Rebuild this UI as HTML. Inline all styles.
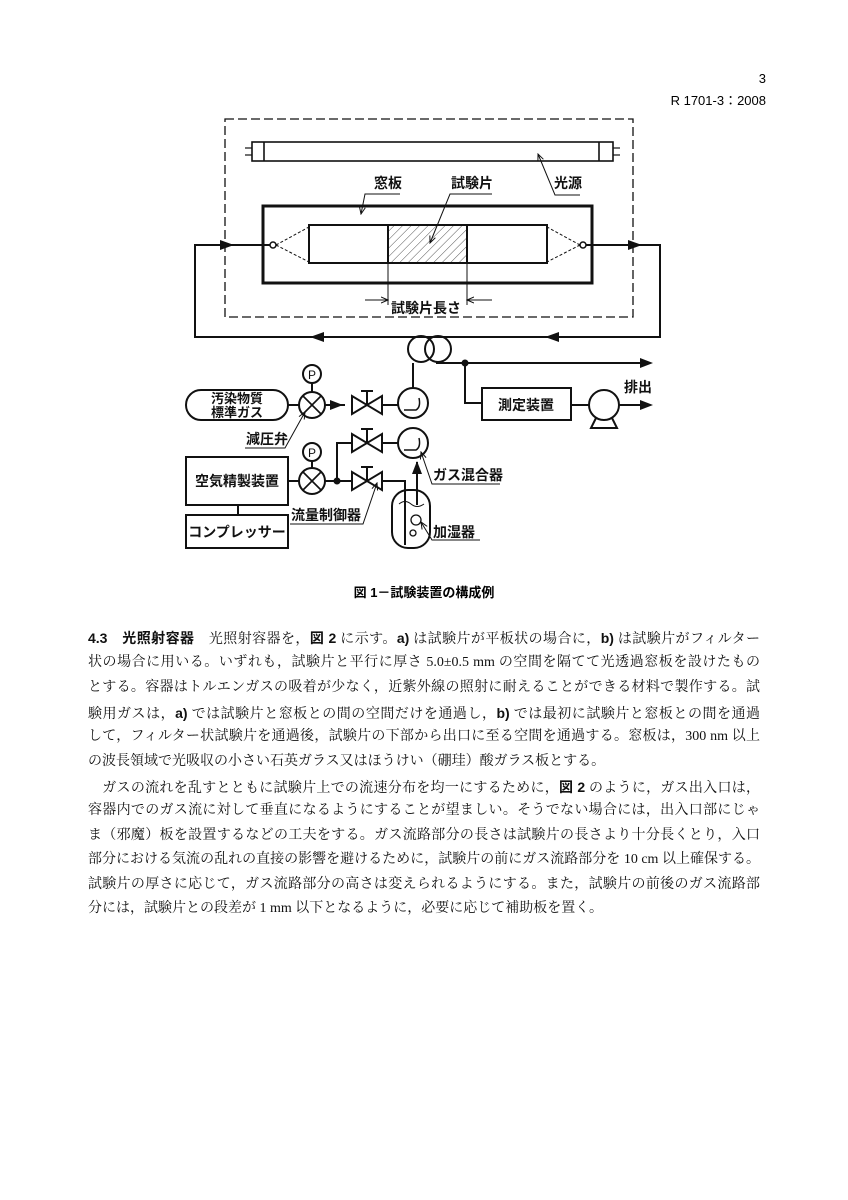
<!DOCTYPE html>
<html><head><meta charset="utf-8">
<style>
body{margin:0;background:#fff;}
#pg{position:relative;width:848px;height:1200px;overflow:hidden;background:#fff;}
.t{position:absolute;left:88px;width:672px;font-family:"Liberation Serif","Noto Serif CJK SC",serif;font-size:14px;line-height:18px;color:#111;text-align:justify;text-align-last:justify;white-space:nowrap;}
.t.l{text-align-last:left;}
b{font-family:"Liberation Sans","Noto Sans CJK JP",sans-serif;font-weight:bold;}
.d{font-family:"Liberation Sans","Noto Sans CJK JP",sans-serif;font-size:14px;font-weight:bold;fill:#111;}
</style></head><body><div id="pg">
<svg width="848" height="1200" style="position:absolute;left:0;top:0" xmlns="http://www.w3.org/2000/svg">
<defs>
<marker id="sa" markerWidth="8" markerHeight="8" refX="7" refY="4" orient="auto" markerUnits="userSpaceOnUse"><path d="M0,1 L7,4 L0,7" fill="none" stroke="#111" stroke-width="1"/></marker>
<pattern id="h" width="6" height="6" patternUnits="userSpaceOnUse" patternTransform="rotate(45)"><line x1="0" y1="0" x2="0" y2="6" stroke="#555" stroke-width="1"/></pattern>
</defs>
<text x="766" y="83" text-anchor="end" style="font-family:'Liberation Sans',sans-serif;font-size:13px">3</text>
<text x="766" y="105" text-anchor="end" style="font-family:'Liberation Sans','Noto Sans CJK JP',sans-serif;font-size:13px">R 1701-3：2008</text>
<g stroke="#111" fill="none" stroke-width="1.6">
<rect x="225" y="119" width="408" height="198" stroke-dasharray="9,4" stroke-width="1.3"/>
<rect x="252" y="142" width="361" height="19"/>
<line x1="264" y1="142" x2="264" y2="161"/><line x1="599" y1="142" x2="599" y2="161"/>
<line x1="245" y1="148" x2="252" y2="148" stroke-width="1.2"/><line x1="245" y1="155" x2="252" y2="155" stroke-width="1.2"/>
<line x1="613" y1="148" x2="620" y2="148" stroke-width="1.2"/><line x1="613" y1="155" x2="620" y2="155" stroke-width="1.2"/>
<rect x="263" y="206" width="329" height="77" stroke-width="3"/>
<rect x="309" y="225" width="238" height="38" stroke-width="2"/>
<rect x="388" y="225" width="79" height="38" fill="url(#h)" stroke-width="2"/>
<path d="M276,245 L309,227 M276,245 L309,262 M580,245 L547,227 M580,245 L547,262" stroke-dasharray="3,2" stroke-width="1"/>
<circle cx="273" cy="245" r="3" stroke-width="1.5" fill="#fff"/><circle cx="583" cy="245" r="3" stroke-width="1.5" fill="#fff"/>
<path d="M270,245 L195,245 L195,337 L660,337 L660,245 L586,245" stroke-width="2"/>
</g>
<g fill="#111">
<path d="M220,240 L234,245 L220,250 z"/><path d="M628,240 L642,245 L628,250 z"/>
<path d="M310,337 L324,332 L324,342 z"/><path d="M545,337 L559,332 L559,342 z"/>
</g>
<g stroke="#111" fill="none" stroke-width="1">
<line x1="388" y1="263" x2="388" y2="305"/><line x1="467" y1="263" x2="467" y2="305"/>
<line x1="365" y1="300" x2="388" y2="300" marker-end="url(#sa)"/><line x1="492" y1="300" x2="467" y2="300" marker-end="url(#sa)"/>
<path d="M400,194 L365,194 L361,214" marker-end="url(#sa)"/>
<path d="M492,194 L450,194 L430,243" marker-end="url(#sa)"/>
<path d="M580,195 L555,195 L538,154" marker-end="url(#sa)"/>
</g>
<text class="d" x="374" y="188">窓板</text>
<text class="d" x="451" y="188">試験片</text>
<text class="d" x="554" y="188">光源</text>
<text class="d" x="391" y="313">試験片長さ</text>
<g stroke="#111" fill="none" stroke-width="2">
<circle cx="421" cy="349" r="13"/><circle cx="438" cy="349" r="13"/>
<path d="M436,363 L645,363"/>
<path d="M465,363 L465,403 L482,403"/>
<rect x="482" y="388" width="89" height="32"/>
<path d="M571,405 L589,405"/>
<circle cx="604" cy="405" r="15"/>
<path d="M619,405 L645,405"/>
<path d="M596,418 L591,428 L617,428 L612,418"/>
<path d="M413,363 L413,388"/>
<circle cx="413" cy="403" r="15"/><circle cx="413" cy="443" r="15"/>
<path d="M404,410 L416,410 Q421,407 419,398" stroke-width="1.5"/>
<path d="M404,450 L416,450 Q421,447 419,438" stroke-width="1.5"/>
<rect x="186" y="390" width="102" height="30" rx="15"/>
<line x1="288" y1="405" x2="299" y2="405"/>
<circle cx="312" cy="405" r="13"/>
<path d="M303,396 L321,414 M321,396 L303,414" stroke-width="1.6"/>
<circle cx="312" cy="374" r="9"/><line x1="312" y1="383" x2="312" y2="392"/>
<line x1="325" y1="405" x2="345" y2="405"/>
<path d="M352,396 L352,414 L382,396 L382,414 z"/>
<line x1="367" y1="405" x2="367" y2="391"/><line x1="361" y1="391" x2="373" y2="391"/>
<line x1="382" y1="405" x2="398" y2="405"/>
<rect x="186" y="457" width="102" height="48"/>
<rect x="186" y="515" width="102" height="33"/>
<line x1="238" y1="505" x2="238" y2="515"/>
<line x1="288" y1="481" x2="299" y2="481"/>
<circle cx="312" cy="481" r="13"/>
<path d="M303,472 L321,490 M321,472 L303,490" stroke-width="1.6"/>
<circle cx="312" cy="452" r="9"/><line x1="312" y1="461" x2="312" y2="468"/>
<line x1="325" y1="481" x2="352" y2="481"/>
<path d="M337,481 L337,443 L352,443"/>
<path d="M352,434 L352,452 L382,434 L382,452 z"/>
<line x1="367" y1="443" x2="367" y2="429"/><line x1="361" y1="429" x2="373" y2="429"/>
<line x1="382" y1="443" x2="398" y2="443"/>
<path d="M352,472 L352,490 L382,472 L382,490 z"/>
<line x1="367" y1="481" x2="367" y2="467"/><line x1="361" y1="467" x2="373" y2="467"/>
<path d="M382,481 L405,481 L405,545"/>
<rect x="392" y="490" width="38" height="58" rx="16"/>
<line x1="417" y1="505" x2="417" y2="462"/>
<path d="M399,504 Q405,499 411,504 Q417,509 424,504" stroke-width="1"/>
<circle cx="416" cy="520" r="5" stroke-width="1.3"/><circle cx="413" cy="533" r="3" stroke-width="1.3"/>
</g>
<g fill="#111">
<circle cx="465" cy="363" r="3.5"/><circle cx="337" cy="481" r="3.5"/>
<path d="M640,358 L653,363 L640,368 z"/><path d="M640,400 L653,405 L640,410 z"/>
<path d="M330,400 L343,405 L330,410 z"/>
<path d="M412,474 L417,461 L422,474 z"/>
</g>
<g stroke="#111" fill="none" stroke-width="1">
<path d="M245,448 L285,448 L305,412" marker-end="url(#sa)"/>
<path d="M290,524 L363,524 L377,483" marker-end="url(#sa)"/>
<path d="M500,484 L432,484 L421,452" marker-end="url(#sa)"/>
<path d="M480,540 L432,540 L421,522" marker-end="url(#sa)"/>
</g>
<text x="312" y="379" text-anchor="middle" class="d" style="font-size:12px;font-weight:normal">P</text>
<text x="312" y="457" text-anchor="middle" class="d" style="font-size:12px;font-weight:normal">P</text>
<text class="d" x="237" y="403" text-anchor="middle" style="font-size:13px">汚染物質</text>
<text class="d" x="237" y="417" text-anchor="middle" style="font-size:13px">標準ガス</text>
<text class="d" x="246" y="444">減圧弁</text>
<text class="d" x="526" y="410" text-anchor="middle">測定装置</text>
<text class="d" x="624" y="392">排出</text>
<text class="d" x="237" y="486" text-anchor="middle">空気精製装置</text>
<text class="d" x="237" y="537" text-anchor="middle">コンプレッサー</text>
<text class="d" x="291" y="520">流量制御器</text>
<text class="d" x="433" y="480">ガス混合器</text>
<text class="d" x="433" y="537">加湿器</text>
<text x="424" y="597" text-anchor="middle" style="font-family:'Liberation Sans','Noto Sans CJK JP',sans-serif;font-size:13px;font-weight:bold">図 1－試験装置の構成例</text>
</svg>
<div class="t" style="top:629px"><b>4.3　光照射容器</b>　光照射容器を，<b>図 2</b> に示す。<b>a)</b> は試験片が平板状の場合に，<b>b)</b> は試験片がフィルター</div>
<div class="t" style="top:654px">状の場合に用いる。いずれも，試験片と平行に厚さ 5.0±0.5 mm の空間を隔てて光透過窓板を設けたもの</div>
<div class="t" style="top:679px">とする。容器はトルエンガスの吸着が少なく，近紫外線の照射に耐えることができる材料で製作する。試</div>
<div class="t" style="top:704px">験用ガスは，<b>a)</b> では試験片と窓板との間の空間だけを通過し，<b>b)</b> では最初に試験片と窓板との間を通過</div>
<div class="t" style="top:728px">して，フィルター状試験片を通過後，試験片の下部から出口に至る空間を通過する。窓板は，300 nm 以上</div>
<div class="t l" style="top:753px">の波長領域で光吸収の小さい石英ガラス又はほうけい（硼珪）酸ガラス板とする。</div>
<div class="t" style="top:778px">　ガスの流れを乱すとともに試験片上での流速分布を均一にするために，<b>図 2</b> のように，ガス出入口は，</div>
<div class="t" style="top:802px">容器内でのガス流に対して垂直になるようにすることが望ましい。そうでない場合には，出入口部にじゃ</div>
<div class="t" style="top:827px">ま（邪魔）板を設置するなどの工夫をする。ガス流路部分の長さは試験片の長さより十分長くとり，入口</div>
<div class="t" style="top:851px">部分における気流の乱れの直接の影響を避けるために，試験片の前にガス流路部分を 10 cm 以上確保する。</div>
<div class="t" style="top:876px">試験片の厚さに応じて，ガス流路部分の高さは変えられるようにする。また，試験片の前後のガス流路部</div>
<div class="t l" style="top:900px">分には，試験片との段差が 1 mm 以下となるように，必要に応じて補助板を置く。</div>
</div></body></html>
